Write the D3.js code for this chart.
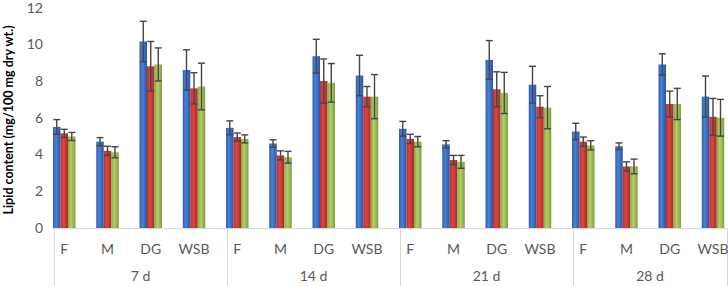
<!DOCTYPE html>
<html>
<head>
<meta charset="utf-8">
<script src="https://cdn.jsdelivr.net/npm/d3@7"></script>
<style>
  body { margin: 0; background: #fff; }
  svg { display: block; font-family: Lato, "Open Sans", sans-serif; }
</style>
</head>
<body>
<svg id="viz" width="728" height="286"></svg>
<script>
const groups = ['7 d', '14 d', '21 d', '28 d'];
const categories = ['F', 'M', 'DG', 'WSB'];
const seriesNames = ['Series1', 'Series2', 'Series3'];
const yTicks = [0, 2, 4, 6, 8, 10, 12];

// values in group order: 7 d (F, M, DG, WSB), 14 d, 21 d, 28 d
const blueVals = [5.5, 4.7, 10.15, 8.6, 5.45, 4.6, 9.35, 8.3, 5.4, 4.55, 9.15, 7.8, 5.25, 4.45, 8.9, 7.15];
const redVals = [5.15, 4.2, 8.8, 7.6, 4.95, 3.95, 8.0, 7.15, 4.85, 3.7, 7.55, 6.6, 4.7, 3.35, 6.75, 6.05];
const greenVals = [4.98, 4.12, 8.9, 7.7, 4.85, 3.85, 7.9, 7.15, 4.7, 3.6, 7.35, 6.55, 4.5, 3.35, 6.75, 6.0];

const blueErr = [0.4, 0.22, 1.1, 1.1, 0.38, 0.2, 0.92, 1.1, 0.4, 0.2, 1.05, 1.0, 0.45, 0.18, 0.58, 1.12];
const redErr = [0.22, 0.25, 1.35, 0.85, 0.22, 0.25, 1.2, 0.55, 0.25, 0.25, 0.95, 0.6, 0.25, 0.25, 0.7, 1.0];
const greenErr = [0.22, 0.3, 0.9, 1.27, 0.22, 0.32, 1.05, 1.2, 0.28, 0.35, 1.12, 1.15, 0.25, 0.4, 0.85, 1.0];

const allVals = [blueVals, redVals, greenVals];
const allErr = [blueErr, redErr, greenErr];

const svg = d3.select('#viz');
const plotLeft = 53, plotRight = 727, plotTop = 7.5, base = 228;
const tickColor = '#595959';
const lineColor = '#d9d9d9';

// one band per group/category pair
const keys = [];
groups.forEach((g) => categories.forEach((c) => keys.push(g + '|' + c)));

const x = d3.scaleBand().domain(keys).range([plotLeft, plotLeft + 16 * 43.25]).paddingInner(0);
const xs = d3.scaleBand().domain(seriesNames).range([0, 22.5]);
const y = d3.scaleLinear().domain([0, 12]).range([base, plotTop]);

// gradients like the old office look
const defs = svg.append('defs');
const grads = [
  ['#2f5fb4', '#4a80d4', '#2a55a3'],
  ['#b8302d', '#dc4640', '#aa2a28'],
  ['#86a640', '#b2d06a', '#809f3c'],
];
grads.forEach((c, i) => {
  const lg = defs.append('linearGradient').attr('id', 'g' + i)
    .attr('x1', '0').attr('x2', '1').attr('y1', '0').attr('y2', '0');
  lg.append('stop').attr('offset', '0%').attr('stop-color', c[0]);
  lg.append('stop').attr('offset', '40%').attr('stop-color', c[1]);
  lg.append('stop').attr('offset', '100%').attr('stop-color', c[2]);
});

// y axis labels (no line)
svg.append('g')
  .selectAll('text')
  .data(yTicks)
  .join('text')
  .attr('x', 43)
  .attr('y', (d) => Math.max(y(d), 8))
  .attr('dy', '0.35em')
  .attr('text-anchor', 'end')
  .style('font-size', '14px')
  .style('fill', tickColor)
  .text((d) => d);

// y title
svg.append('text')
  .attr('transform', 'translate(13,120) rotate(-90)')
  .attr('text-anchor', 'middle')
  .style('font-size', '12.5px')
  .style('font-weight', 'bold')
  .style('fill', '#000')
  .text('Lipid content (mg/100 mg dry wt.)');

// bars
seriesNames.forEach((s, si) => {
  svg.append('g')
    .selectAll('rect')
    .data(keys)
    .join('rect')
    .attr('x', (k) => x(k) + xs(s))
    .attr('width', xs.bandwidth())
    .attr('y', (k, i) => y(allVals[si][i]))
    .attr('height', (k, i) => base - y(allVals[si][i]))
    .attr('fill', 'url(#g' + si + ')');
});

// error bars
seriesNames.forEach((s, si) => {
  const g = svg.append('g').attr('stroke', '#454545').attr('stroke-width', 1.4);
  keys.forEach((k, i) => {
    const cx = x(k) + xs(s) + xs.bandwidth() / 2;
    const v = allVals[si][i], e = allErr[si][i];
    const y1 = y(v + e), y0 = y(v - e);
    g.append('line').attr('x1', cx).attr('x2', cx).attr('y1', y1).attr('y2', y0);
    g.append('line').attr('x1', cx - 3.5).attr('x2', cx + 3.5).attr('y1', y1).attr('y2', y1);
    g.append('line').attr('x1', cx - 3.5).attr('x2', cx + 3.5).attr('y1', y0).attr('y2', y0);
  });
});

// category axis
svg.append('line')
  .attr('x1', plotLeft).attr('x2', plotRight)
  .attr('y1', base + 0.5).attr('y2', base + 0.5)
  .attr('stroke', lineColor);

const seps = groups.map((g) => x(g + '|' + categories[0]) + 1).concat([plotRight]);
svg.append('g')
  .selectAll('line')
  .data(seps)
  .join('line')
  .attr('x1', (d) => Math.round(d) + 0.5)
  .attr('x2', (d) => Math.round(d) + 0.5)
  .attr('y1', base)
  .attr('y2', 286)
  .attr('stroke', lineColor);

svg.append('g')
  .selectAll('text')
  .data(keys)
  .join('text')
  .attr('x', (k) => x(k) + 11.25)
  .attr('y', 254)
  .attr('text-anchor', 'middle')
  .style('font-size', '14px')
  .style('fill', tickColor)
  .text((k) => k.split('|')[1]);

svg.append('g')
  .selectAll('text')
  .data(groups)
  .join('text')
  .attr('x', (g, i) => (seps[i] + seps[i + 1]) / 2)
  .attr('y', 281)
  .attr('text-anchor', 'middle')
  .style('font-size', '14px')
  .style('fill', tickColor)
  .text((g) => g);
</script>
</body>
</html>
